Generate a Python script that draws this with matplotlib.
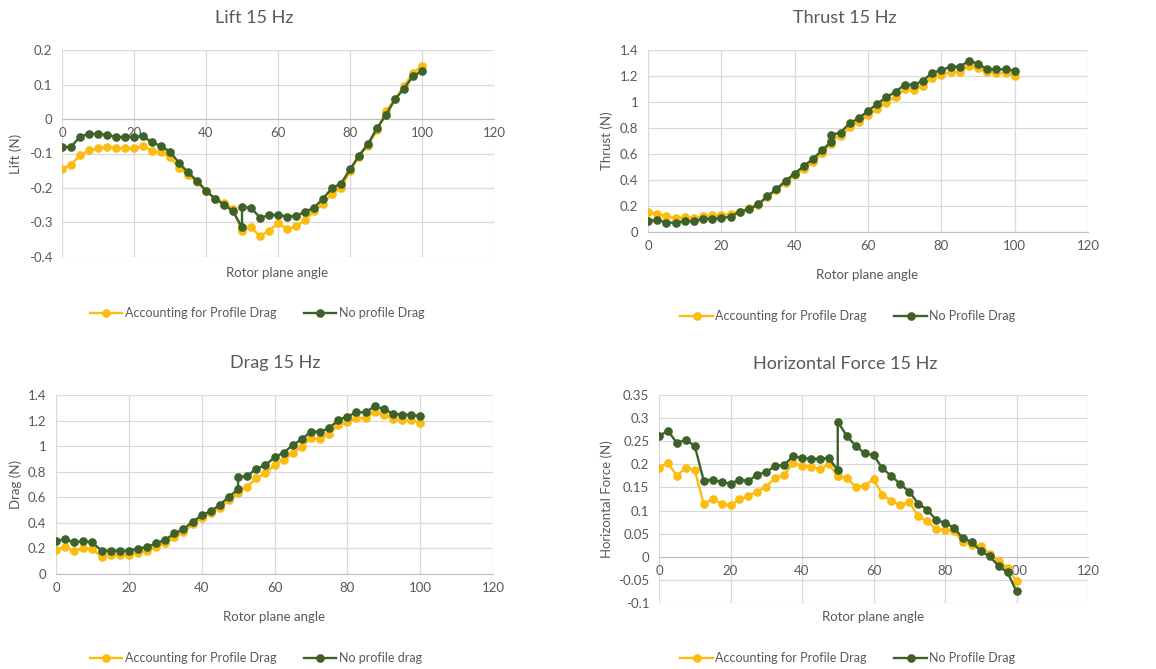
import matplotlib
matplotlib.use("Agg")
import matplotlib.pyplot as plt
from matplotlib.ticker import FuncFormatter

plt.rcParams["font.family"] = ["Lato", "DejaVu Sans"]

# rotor plane angle (50 appears twice in the source data)
angle = [0, 2.5, 5, 7.5, 10, 12.5, 15, 17.5, 20, 22.5, 25, 27.5, 30, 32.5, 35, 37.5,
         40, 42.5, 45, 47.5, 50, 50, 52.5, 55, 57.5, 60, 62.5, 65, 67.5, 70, 72.5,
         75, 77.5, 80, 82.5, 85, 87.5, 90, 92.5, 95, 97.5, 100]

lift_prof = [-0.146, -0.132, -0.105, -0.091, -0.085, -0.081, -0.085, -0.085, -0.085, -0.078,
             -0.092, -0.097, -0.111, -0.141, -0.162, -0.183, -0.208, -0.231, -0.244, -0.261,
             -0.326, -0.322,
             -0.314, -0.340, -0.324, -0.302, -0.319, -0.311, -0.294, -0.267, -0.245, -0.218,
             -0.199, -0.152, -0.109, -0.077, -0.032, 0.023, 0.057, 0.095, 0.134, 0.153]
lift_noprof = [-0.081, -0.081, -0.051, -0.043, -0.043, -0.046, -0.052, -0.052, -0.052, -0.050,
               -0.068, -0.078, -0.095, -0.127, -0.155, -0.179, -0.208, -0.231, -0.248, -0.268,
               -0.314, -0.256,
               -0.257, -0.286, -0.279, -0.277, -0.283, -0.281, -0.269, -0.257, -0.231, -0.200,
               -0.187, -0.146, -0.106, -0.072, -0.027, 0.012, 0.057, 0.088, 0.124, 0.139]

thrust_prof = [0.151, 0.141, 0.120, 0.107, 0.115, 0.110, 0.120, 0.128, 0.128, 0.141,
               0.156, 0.184, 0.207, 0.266, 0.320, 0.379, 0.435, 0.486, 0.535, 0.607,
               0.678, 0.709,
               0.735, 0.804, 0.847, 0.898, 0.944, 0.996, 1.037, 1.098, 1.093, 1.124,
               1.188, 1.208, 1.229, 1.229, 1.280, 1.259, 1.229, 1.223, 1.223, 1.200]
thrust_noprof = [0.084, 0.095, 0.072, 0.072, 0.084, 0.084, 0.102, 0.102, 0.107, 0.118,
                 0.156, 0.174, 0.212, 0.274, 0.330, 0.394, 0.450, 0.507, 0.563, 0.630,
                 0.696, 0.747,
                 0.765, 0.837, 0.875, 0.932, 0.985, 1.037, 1.078, 1.134, 1.134, 1.162,
                 1.226, 1.244, 1.272, 1.272, 1.316, 1.295, 1.252, 1.252, 1.252, 1.241]

drag_prof = [0.190, 0.211, 0.180, 0.200, 0.195, 0.135, 0.151, 0.146, 0.146, 0.164,
             0.182, 0.211, 0.239, 0.289, 0.325, 0.390, 0.437, 0.476, 0.515, 0.580,
             0.632, 0.650,
             0.684, 0.749, 0.788, 0.853, 0.893, 0.945, 0.997, 1.062, 1.056, 1.096,
             1.163, 1.189, 1.220, 1.220, 1.267, 1.246, 1.215, 1.205, 1.205, 1.184]
drag_noprof = [0.258, 0.273, 0.247, 0.258, 0.247, 0.182, 0.182, 0.182, 0.182, 0.198,
               0.211, 0.239, 0.268, 0.317, 0.351, 0.409, 0.458, 0.492, 0.541, 0.606,
               0.661, 0.757,
               0.765, 0.825, 0.851, 0.913, 0.950, 1.007, 1.054, 1.114, 1.114, 1.140,
               1.205, 1.231, 1.265, 1.265, 1.311, 1.291, 1.254, 1.246, 1.246, 1.233]

horiz_prof = [0.193, 0.203, 0.175, 0.193, 0.188, 0.114, 0.125, 0.115, 0.111, 0.124,
              0.132, 0.141, 0.152, 0.171, 0.177, 0.203, 0.197, 0.195, 0.190, 0.200,
              0.175, 0.175,
              0.170, 0.152, 0.154, 0.168, 0.134, 0.121, 0.112, 0.118, 0.088, 0.077,
              0.060, 0.057, 0.055, 0.033, 0.026, 0.023, 0.007, -0.009, -0.024, -0.053]
horiz_noprof = [0.261, 0.273, 0.246, 0.253, 0.240, 0.165, 0.167, 0.162, 0.158, 0.167,
                0.164, 0.178, 0.183, 0.197, 0.198, 0.218, 0.214, 0.212, 0.212, 0.214,
                0.187, 0.292,
                0.262, 0.240, 0.224, 0.220, 0.191, 0.175, 0.157, 0.141, 0.115, 0.102,
                0.080, 0.073, 0.063, 0.040, 0.032, 0.012, 0.001, -0.020, -0.034, -0.075]

YELLOW = "#FBBC0F"
GREEN = "#3D6128"
GRID = "#D9D9D9"
TXT = "#595959"
W, H = 1156, 669

fig = plt.figure(figsize=(W / 100, H / 100), dpi=100)

def px(x, y):
    # pixel position (from top-left) -> figure fraction
    return x / W, 1 - y / H

# (title, ylabel, yellow, green, green label, ylim, ystep, axes box px (l, t, r, b),
#  title xy, xlabel xy, legend xy, ylabel x, zero-axis?)
panels = [
    ("Lift 15 Hz", "Lift (N)", lift_prof, lift_noprof, "No profile Drag",
     (-0.4, 0.2), 0.1, (62, 50, 494, 257), (254, 18), (277, 273), (257, 313), 16, True),
    ("Thrust 15 Hz", "Thrust (N)", thrust_prof, thrust_noprof, "No Profile Drag",
     (0, 1.4), 0.2, (648, 50, 1088, 232), (845, 18), (867, 275), (848, 316), 607, False),
    ("Drag 15 Hz", "Drag (N)", drag_prof, drag_noprof, "No profile drag",
     (0, 1.4), 0.2, (56, 395, 493, 574), (275, 363), (274, 617), (256, 658), 16, False),
    ("Horizontal Force 15 Hz", "Horizontal Force (N)", horiz_prof, horiz_noprof, "No Profile Drag",
     (-0.1, 0.35), 0.05, (659, 395, 1088, 603), (845, 364), (873, 617), (848, 658), 607, True),
]

for (title, ylab, yp, yn, nlab, ylim, ystep, box, txy, xlxy, lxy, ylx, zero_axis) in panels:
    l, t, r, b = box
    ax = fig.add_axes([l / W, 1 - b / H, (r - l) / W, (b - t) / H])
    ax.plot(angle, yp, color=YELLOW, lw=1.7, marker="o", ms=5.2,
            label="Accounting for Profile Drag", zorder=3)
    ax.plot(angle, yn, color=GREEN, lw=1.7, marker="o", ms=5.2, label=nlab, zorder=4)

    ax.set_xlim(0, 120)
    ax.set_xticks(range(0, 121, 20))
    ax.set_ylim(*ylim)
    n = int(round((ylim[1] - ylim[0]) / ystep))
    ax.set_yticks([round(ylim[0] + i * ystep, 3) for i in range(n + 1)])
    ax.yaxis.set_major_formatter(FuncFormatter(lambda v, p: f"{v:g}"))
    ax.grid(True, color=GRID, lw=0.9)
    ax.set_axisbelow(True)
    for s in ("top", "right", "left"):
        ax.spines[s].set_visible(False)
    ax.spines["bottom"].set_color("#BFBFBF")
    if zero_axis:
        ax.spines["bottom"].set_position(("data", 0))
    ax.tick_params(length=0, labelsize=9.5, labelcolor=TXT, pad=6)
    ax.tick_params(axis="y", pad=7)

    fig.text(*px(*txy), title, ha="center", va="center", fontsize=13, color=TXT)
    fig.text(*px(*xlxy), "Rotor plane angle", ha="center", va="center",
             fontsize=9.5, color=TXT)
    fig.text(*px(ylx, (t + b) / 2), ylab, rotation=90, ha="center",
             va="center", fontsize=9.5, color=TXT)
    ax.legend(loc="center", bbox_to_anchor=px(*lxy),
              bbox_transform=fig.transFigure, ncol=2, frameon=False, fontsize=9,
              labelcolor=TXT, handlelength=2.6, columnspacing=2.2, handletextpad=0.2,
              numpoints=1)

fig.savefig("out.png", dpi=100)
